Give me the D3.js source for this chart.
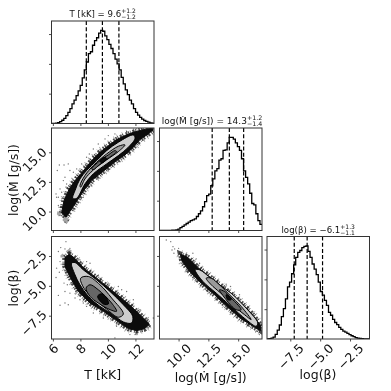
<!DOCTYPE html>
<html>
<head>
<meta charset="utf-8">
<script src="https://cdn.jsdelivr.net/npm/d3@7"></script>
<style>
  html, body { margin: 0; background: #fff; }
  svg { display: block; filter: blur(0.35px); }
  text { font-family: "DejaVu Sans"; fill: #111; }
</style>
</head>
<body>
<div id="chart"></div>
<script>
// all numbers, in data units
const t_domain = [5.9, 13.35];
const m_domain = [8.4, 17.05];
const b_domain = [-9.45, -0.87];
const m_x_domain = [8.4, 17.0];

const t_ticks = [6, 8, 10, 12];
const m_ticks = [10, 12.5, 15];
const b_ticks = [-7.5, -5, -2.5];
const hist_ticks = [32, 64, 96];

const t_hist = [0, 0, 0.4, 1, 2, 3.5, 5.5, 8.5, 12, 16, 21, 25, 30, 35, 41, 49, 57.5, 66, 75, 77, 84, 89, 92, 97, 100,
  99, 94, 90, 85, 80.5, 75, 69, 64, 57.5, 49.5, 42.5, 36, 31, 25, 21, 16, 12, 9, 6.5, 4.7, 3.2, 2.2, 1.4, 0.7, 0.4];
const m_hist = [0, 0, 0, 0, 0, 0, 0.3, 0.4, 0.7, 1.5, 3, 4.5, 6, 7.5, 9, 10.5, 11.5, 12.5, 15, 18, 21, 25.5, 31, 37.5, 39,
  48, 55.5, 64, 66.5, 75.5, 77, 86, 86.5, 94, 100, 100, 98, 94, 90, 86, 77, 64, 57, 50, 40, 29, 27.5, 18, 10.5, 6.5];
const b_hist = [0, 0.3, 1, 2, 5, 9.5, 15, 24, 32.5, 43, 56, 61, 70, 79.5, 87.5, 93, 95, 98, 99.5, 100, 94, 87.5, 80.5, 75, 69,
  61, 51, 47, 41.5, 36, 28.5, 25.5, 21, 17.7, 15.5, 12.4, 10.3, 8.5, 7.4, 6, 4.6, 3.5, 2.5, 1.4, 1, 0.7, 0.3, 0.1, 0, 0];

const t_quantiles = [8.43, 9.6, 10.8];
const m_quantiles = [12.82, 14.26, 15.46];
const b_quantiles = [-7.17, -6.09, -4.8];

// T vs Mdot
const tm_cloud = [[6.64, 9.89], [6.81, 10.93], [7.19, 11.91], [7.61, 12.61], [7.97, 13.09], [8.33, 13.6], [8.82, 14.3], [9.42, 15.0],
  [10.03, 15.56], [10.63, 16.07], [11.24, 16.41], [11.85, 16.69], [12.57, 16.91], [13.18, 17.03], [13.3, 16.91], [12.93, 16.55], [12.33, 16.07],
  [11.85, 15.42], [11.24, 14.78], [10.63, 14.3], [10.03, 13.74], [9.42, 13.18], [8.82, 12.61], [8.33, 11.91], [7.85, 11.07], [7.36, 10.22], [6.95, 9.52]];
const tm_light = [[7.44, 11.12], [7.61, 11.77], [7.97, 12.75], [8.45, 13.46], [9.18, 14.3], [9.91, 15.14], [10.76, 15.85], [11.85, 16.46], [11.97, 16.18],
  [11.48, 15.42], [10.76, 14.72], [9.91, 14.02], [8.94, 13.18], [8.33, 12.33], [7.73, 11.12]];
const tm_mid = [[7.97, 12.19], [8.33, 13.04], [8.94, 13.88], [9.91, 14.86], [10.76, 15.51], [11.24, 15.62], [10.76, 15.06], [9.91, 14.36],
  [8.94, 13.51], [8.33, 12.75], [8.02, 12.05]];
const tm_dark = [[8.82, 13.6], [9.42, 14.3], [10.03, 14.78], [10.51, 15.14], [10.63, 15.06], [10.03, 14.5], [9.42, 13.99], [8.94, 13.54]];
const tm_core = [[9.42, 14.3], [9.79, 14.58], [9.91, 14.44], [9.54, 14.1]];
const tm_points = [[6.47, 13.93], [6.81, 13.93], [7.12, 14.02], [6.32, 13.46], [6.88, 12.89], [6.76, 12.61], [6.23, 11.49], [6.4, 11.21],
  [6.64, 11.63], [6.4, 10.51], [6.76, 10.51], [6.88, 9.1], [6.52, 9.66], [6.64, 11.07], [7.24, 13.46], [7.49, 13.32], [7.29, 12.19],
  [7.0, 12.33], [7.73, 13.6], [8.09, 14.02], [8.45, 14.58], [8.94, 15.28], [9.3, 15.7], [9.79, 16.13], [10.51, 16.55], [11.36, 16.74],
  [12.57, 16.55], [12.09, 15.85], [11.6, 15.0], [10.88, 14.2], [10.15, 13.6], [9.42, 12.81], [8.82, 12.19], [8.21, 11.21], [7.61, 10.22],
  [7.12, 9.24], [6.95, 11.21], [7.19, 11.49], [7.61, 12.89], [7.97, 13.6], [8.65, 14.86], [10.03, 16.41], [6.52, 11.91], [6.27, 11.21]];

// T vs beta
const tb_cloud = [[6.88, -2.63], [7.19, -2.36], [7.53, -2.63], [8.21, -3.47], [9.18, -4.36], [10.39, -5.47], [11.6, -6.63], [12.45, -7.55],
  [13.01, -8.19], [12.69, -8.58], [12.09, -8.75], [11.48, -8.58], [10.63, -7.91], [9.67, -7.13], [8.7, -6.44], [7.85, -5.47], [7.29, -4.36], [6.88, -3.38]];
const tb_light = [[7.36, -3.11], [7.61, -3.05], [8.21, -3.66], [9.18, -4.5], [10.15, -5.47], [11.12, -6.58], [11.8, -7.55], [11.72, -8.11],
  [11.12, -8.02], [10.39, -7.41], [9.42, -6.72], [8.58, -5.88], [7.97, -4.91], [7.61, -4.08]];
const tb_mid = [[8.02, -4.36], [8.58, -4.22], [9.42, -4.91], [10.27, -6.02], [11.12, -7.36], [10.76, -7.63], [9.91, -6.95], [8.94, -6.02], [8.33, -5.33]];
const tb_dark = [[8.41, -5.19], [8.7, -4.91], [9.3, -5.33], [10.27, -6.44], [10.63, -7.13], [10.15, -6.99], [9.3, -6.44], [8.7, -5.88]];
const tb_core = [[9.25, -5.88], [9.54, -5.66], [9.91, -6.02], [10.03, -6.52], [9.67, -6.52]];
const tb_points = [[6.95, -1.3], [6.57, -1.8], [6.4, -2.13], [6.88, -1.91], [6.52, -2.97], [6.27, -3.52], [6.23, -4.3], [6.47, -3.86],
  [6.81, -4.77], [7.05, -4.91], [6.4, -5.8], [6.88, -5.47], [7.24, -5.61], [6.88, -6.44], [6.52, -6.63], [7.12, -6.58], [7.61, -6.02],
  [7.97, -6.16], [8.45, -2.97], [8.7, -3.11], [9.3, -4.13], [10.03, -4.77], [10.76, -5.05], [11.0, -5.33], [11.85, -6.16], [12.33, -7.0],
  [13.3, -7.69], [12.69, -8.8], [11.6, -9.08], [10.51, -9.36], [10.63, -8.38], [9.67, -7.69], [8.94, -7.27], [8.45, -6.72], [8.21, -6.44],
  [11.36, -5.47], [7.97, -2.83], [7.24, -1.86], [9.42, -4.36], [11.0, -8.25], [11.97, -9.08]];

// Mdot vs beta
const mb_cloud = [[10.17, -2.36], [10.79, -2.63], [11.62, -3.47], [12.46, -4.13], [13.72, -5.13], [14.97, -6.16], [16.09, -7.27], [16.87, -8.3],
  [16.87, -8.75], [16.37, -8.47], [15.25, -7.75], [14.13, -6.8], [13.02, -5.75], [11.9, -4.77], [10.93, -3.8], [10.28, -2.91]];
const mb_light = [[11.4, -3.66], [11.76, -3.66], [13.02, -4.63], [14.41, -5.61], [15.67, -6.86], [16.65, -8.11], [16.51, -8.38], [15.67, -7.83],
  [14.41, -6.72], [13.16, -5.61], [12.04, -4.63]];
const mb_mid = [[12.32, -4.36], [12.74, -4.36], [13.58, -5.05], [14.27, -5.75], [15.25, -6.72], [16.09, -7.83], [15.53, -7.41], [14.69, -6.72],
  [13.72, -5.75], [12.88, -5.05]];
const mb_dark = [[13.44, -5.33], [13.85, -5.47], [14.27, -5.88], [15.25, -7.0], [14.83, -7.0], [13.99, -6.16]];
const mb_core = [[13.99, -5.75], [14.27, -5.88], [14.41, -6.16], [14.13, -6.16]];
const mb_points = [[9.34, -1.3], [8.97, -1.16], [9.53, -1.72], [9.45, -2.0], [9.67, -1.91], [9.61, -2.27], [10.0, -1.86], [9.95, -2.47],
  [10.09, -2.27], [11.2, -2.27], [11.48, -2.74], [11.76, -3.1], [10.37, -3.11], [10.65, -3.52], [12.88, -4.22], [13.99, -4.86], [14.36, -5.05],
  [15.11, -5.75], [15.81, -6.72], [16.78, -9.08], [16.5, -8.8], [15.95, -8.38], [14.83, -7.41], [13.58, -6.3], [12.46, -5.47], [11.34, -4.36]];

const col_left = [51.5, 159.5, 267];
const row_top = [21, 128, 236.5];
const size = 102.5;
const tick_font = 12.5;
const label_font = 12.5;

let svg = d3.select("#chart").append("svg").attr("width", 391).attr("height", 391);
let defs = svg.append("defs");

function add_panel(col, row, name) {
  let g = svg.append("g").attr("transform", "translate(" + col_left[col] + "," + row_top[row] + ")");
  defs.append("clipPath").attr("id", "clip_" + name)
    .append("rect").attr("width", size).attr("height", size);
  let inner = g.append("g").attr("clip-path", "url(#clip_" + name + ")");
  return { g, inner };
}

function draw_axes(g, x_scale, y_scale, x_ticks, y_ticks, show_x, show_y) {
  let fmt_x = x_ticks[0] === 6 ? d3.format("d") : d3.format(".1f");
  let x_axis = g.append("g").attr("transform", "translate(0," + size + ")")
    .call(d3.axisBottom(x_scale).tickValues(x_ticks).tickSize(2.5).tickFormat(show_x ? fmt_x : ""));
  let y_axis = g.append("g")
    .call(d3.axisLeft(y_scale).tickValues(y_ticks).tickSize(2.5).tickFormat(show_y ? d3.format(".1f") : ""));
  x_axis.select(".domain").remove();
  y_axis.select(".domain").remove();
  if (show_x) {
    x_axis.selectAll("text").each(function () {
      d3.select(this).attr("font-size", tick_font).attr("text-anchor", "middle")
        .attr("x", 0).attr("y", 0).attr("dy", ".35em");
      let len = this.getComputedTextLength();
      d3.select(this).attr("transform", "translate(0," + (3.5 + (len + 10) * 0.354) + ") rotate(-45)");
    });
  }
  if (show_y) {
    y_axis.selectAll("text").each(function () {
      d3.select(this).attr("font-size", tick_font).attr("text-anchor", "middle")
        .attr("x", 0).attr("y", 0).attr("dy", ".35em");
      let len = this.getComputedTextLength();
      d3.select(this).attr("transform", "translate(" + -(3.5 + (len + 10) * 0.354) + ",7) rotate(-45)");
    });
  }
  g.selectAll(".tick line").attr("stroke", "#222").attr("stroke-width", 0.8);
  g.append("rect").attr("width", size).attr("height", size)
    .attr("fill", "none").attr("stroke", "#333").attr("stroke-width", 1);
}

function draw_hist(col, row, name, domain, ticks, values, quantiles, show_x) {
  let { g, inner } = add_panel(col, row, name);
  let x_scale = d3.scaleLinear().domain(domain).range([0, size]);
  let y_scale = d3.scaleLinear().domain([0, 110]).range([size, 0]);
  let step = (domain[1] - domain[0]) / values.length;
  let steps = values.map((v, i) => [domain[0] + i * step, v]);
  steps.push([domain[1], values[values.length - 1]]);
  let line = d3.line().x(d => x_scale(d[0])).y(d => y_scale(d[1])).curve(d3.curveStepAfter);
  inner.append("path").attr("d", line(steps))
    .attr("fill", "none").attr("stroke", "#000").attr("stroke-width", 1.3);
  inner.selectAll(".quantile").data(quantiles).enter().append("line")
    .attr("class", "quantile")
    .attr("x1", d => x_scale(d)).attr("x2", d => x_scale(d))
    .attr("y1", 0).attr("y2", size)
    .attr("stroke", "#000").attr("stroke-width", 1.2).attr("stroke-dasharray", "4,2.2");
  draw_axes(g, x_scale, y_scale, ticks, hist_ticks, show_x, false);
}

function draw_density(col, row, name, x_domain, y_domain, x_ticks, y_ticks, layers, show_x, show_y) {
  let { g, inner } = add_panel(col, row, name);
  let x_scale = d3.scaleLinear().domain(x_domain).range([0, size]);
  let y_scale = d3.scaleLinear().domain(y_domain).range([size, 0]);
  let rough = d3.line().x(d => x_scale(d[0])).y(d => y_scale(d[1])).curve(d3.curveLinearClosed);
  let smooth = d3.line().x(d => x_scale(d[0])).y(d => y_scale(d[1])).curve(d3.curveCatmullRomClosed);
  inner.selectAll(".pt").data(layers.points).enter().append("circle")
    .attr("class", "pt").attr("cx", d => x_scale(d[0])).attr("cy", d => y_scale(d[1]))
    .attr("r", 0.7).attr("fill", "#000").attr("fill-opacity", 0.55);
  // stippled rim, the single points thin out around the dense part
  inner.append("path").attr("d", rough(layers.cloud))
    .attr("fill", "none").attr("stroke", "#000").attr("stroke-opacity", 0.35)
    .attr("stroke-width", 9).attr("stroke-dasharray", "0.7 3.7 1.1 6.1 0.6 2.3 0.9 4.9");
  inner.append("path").attr("d", rough(layers.cloud))
    .attr("fill", "none").attr("stroke", "#000").attr("stroke-opacity", 0.7)
    .attr("stroke-width", 5.5).attr("stroke-dasharray", "1.3 0.9 0.7 1.7 2.1 0.8 0.9 2.3 1.6 1.1");
  inner.append("path").attr("d", rough(layers.cloud))
    .attr("fill", "#0c0c0c").attr("stroke", "#0c0c0c").attr("stroke-width", 1);
  let levels = [[layers.light, "#cdcdcd"], [layers.mid, "#9a9a9a"], [layers.dark, "#666"], [layers.core, "#0c0c0c"]];
  levels.forEach(([poly, color]) => {
    inner.append("path").attr("d", smooth(poly))
      .attr("fill", color).attr("stroke", "#000").attr("stroke-width", 1);
  });
  draw_axes(g, x_scale, y_scale, x_ticks, y_ticks, show_x, show_y);
}

draw_hist(0, 0, "t", t_domain, t_ticks, t_hist, t_quantiles, false);
draw_hist(1, 1, "m", m_x_domain, m_ticks, m_hist, m_quantiles, false);
draw_hist(2, 2, "b", b_domain, b_ticks, b_hist, b_quantiles, true);

draw_density(0, 1, "tm", t_domain, m_domain, t_ticks, m_ticks,
  { cloud: tm_cloud, light: tm_light, mid: tm_mid, dark: tm_dark, core: tm_core, points: tm_points }, false, true);
draw_density(0, 2, "tb", t_domain, b_domain, t_ticks, b_ticks,
  { cloud: tb_cloud, light: tb_light, mid: tb_mid, dark: tb_dark, core: tb_core, points: tb_points }, true, true);
draw_density(1, 2, "mb", m_x_domain, b_domain, m_ticks, b_ticks,
  { cloud: mb_cloud, light: mb_light, mid: mb_mid, dark: mb_dark, core: mb_core, points: mb_points }, true, false);

function add_title(cx, y, main, up, down, font_size) {
  let g = svg.append("g");
  let t = g.append("text").attr("x", 0).attr("y", y).attr("font-size", font_size).text(main);
  let w = t.node().getComputedTextLength();
  let small = font_size * 0.7;
  let a = g.append("text").attr("x", w).attr("y", y - font_size * 0.42).attr("font-size", small).text(up);
  let b = g.append("text").attr("x", w).attr("y", y + font_size * 0.22).attr("font-size", small).text(down);
  let total = w + Math.max(a.node().getComputedTextLength(), b.node().getComputedTextLength());
  g.attr("transform", "translate(" + (cx - total / 2) + ",0)");
}

add_title(102.7, 17, "T [kK] = 9.6", "+1.2", "\u22121.2", 8.6);
add_title(212, 124, "log(\u1E40 [g/s]) = 14.3", "+1.2", "\u22121.4", 9);
add_title(318.2, 233, "log(\u03B2) = \u22126.1", "+1.3", "\u22121.1", 8.6);

const x_labels = [["T [kK]", 102.7, 379], ["log(\u1E40 [g/s])", 210.7, 382], ["log(\u03B2)", 318, 379]];
const y_labels = [["log(\u1E40 [g/s])", 180], ["log(\u03B2)", 288]];

svg.selectAll(".x_label").data(x_labels).enter().append("text")
  .attr("class", "x_label").attr("text-anchor", "middle").attr("font-size", label_font)
  .attr("x", d => d[1]).attr("y", d => d[2]).text(d => d[0]);
svg.selectAll(".y_label").data(y_labels).enter().append("text")
  .attr("class", "y_label").attr("text-anchor", "middle").attr("font-size", label_font)
  .attr("transform", d => "translate(18," + d[1] + ") rotate(-90)").text(d => d[0]);
</script>
</body>
</html>
